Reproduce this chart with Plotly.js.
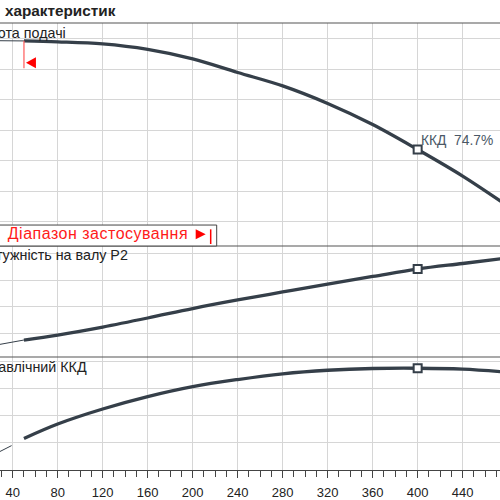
<!DOCTYPE html>
<html>
<head>
<meta charset="utf-8">
<script src="https://cdn.plot.ly/plotly-3.0.1.min.js"></script>
<style>
html,body{margin:0;padding:0;background:#fff}
#chart{width:500px;height:500px}
#chart g.annotation[data-index="5"] text{letter-spacing:0.5px}
</style>
</head>
<body>
<div id="chart"></div>
<script>
// Flow Q (m³/h)
var qThinH = [20, 50];
var hThin = [33.86, 33.84];
var qCurve = [50, 80, 120, 160, 200, 240, 280, 320, 360, 400, 440, 480];
var hCurve = [33.84, 33.78, 33.64, 33.28, 32.66, 31.77, 30.89, 29.74, 28.36, 26.72, 24.98, 23.02];
var qThinP = [20, 50];
var pThin = [22.6, 23.75];
var pCurve = [23.75, 24.69, 26.19, 27.88, 29.66, 31.26, 32.76, 34.26, 35.67, 37.07, 38.11, 39.14];
var qThinEta = [28, 39];
var etaThin = [13.3, 17.9];
var etaCurve = [23.2, 33.8, 44.8, 53.9, 61.2, 66.4, 70.6, 73.2, 74.5, 74.7, 74.0, 71.8];
var designQ = [400];
var designH = [26.72];
var designP = [37.07];
var designEta = [74.7];
var rangeLimits = [50, 216];
var xTickStep = 40;

var curveColor = '#353f49';
var thick = 3.3;
var font = 'Liberation Sans, Arial, sans-serif';

var traces = [
  {x: qThinH, y: hThin, mode: 'lines', line: {color: curveColor, width: 1}, xaxis: 'x', yaxis: 'y', hoverinfo: 'skip'},
  {x: qCurve, y: hCurve, mode: 'lines', line: {color: curveColor, width: thick, shape: 'spline', smoothing: 1}, xaxis: 'x', yaxis: 'y'},
  {x: qThinP, y: pThin, mode: 'lines', line: {color: curveColor, width: 1}, xaxis: 'x', yaxis: 'y2', hoverinfo: 'skip'},
  {x: qCurve, y: pCurve, mode: 'lines', line: {color: curveColor, width: thick, shape: 'spline', smoothing: 1}, xaxis: 'x', yaxis: 'y2'},
  {x: qThinEta, y: etaThin, mode: 'lines', line: {color: curveColor, width: 1}, xaxis: 'x', yaxis: 'y3', hoverinfo: 'skip'},
  {x: qCurve, y: etaCurve, mode: 'lines', line: {color: curveColor, width: thick, shape: 'spline', smoothing: 1}, xaxis: 'x', yaxis: 'y3'}
];
var mk = {symbol: 'square', size: 8, color: '#ffffff', line: {color: curveColor, width: 2}};
traces.push({x: designQ, y: designH, mode: 'markers', marker: mk, xaxis: 'x', yaxis: 'y'});
traces.push({x: designQ, y: designP, mode: 'markers', marker: mk, xaxis: 'x', yaxis: 'y2'});
traces.push({x: designQ, y: designEta, mode: 'markers', marker: mk, xaxis: 'x', yaxis: 'y3'});

var gridColor = '#d6d6d6';
var borderColor = '#555555';
var yBase = {showticklabels: false, ticks: '', zeroline: false, showgrid: true, gridcolor: gridColor, gridwidth: 1, showline: false, tick0: 0, fixedrange: true};

function hline(y) {
  return {type: 'line', xref: 'paper', yref: 'paper', x0: 0, x1: 1, y0: y, y1: y, line: {color: borderColor, width: 1.2}, layer: 'above'};
}

var shapes = [
  hline(1), hline(0.5011), hline(0.2528),
  // range box
  {type: 'rect', xref: 'x', yref: 'paper', xsizemode: 'pixel', xanchor: rangeLimits[1], x0: -300, x1: 6, y0: 0.5011, y1: 0.548,
   fillcolor: '#ffffff', line: {color: '#444444', width: 1}, layer: 'above'},
  // left range marker
  {type: 'line', xref: 'x', yref: 'paper', x0: rangeLimits[0], x1: rangeLimits[0], y0: 0.8987, y1: 0.9604, line: {color: '#ff5a5a', width: 1.2}, layer: 'above'},
  {type: 'path', xref: 'x', yref: 'paper', xsizemode: 'pixel', ysizemode: 'pixel', xanchor: rangeLimits[0], yanchor: 0.911,
   path: 'M 2,0 L 12,5.5 L 12,-5.5 Z', fillcolor: '#ff0000', line: {width: 0}, layer: 'above'},
  // right range marker
  {type: 'line', xref: 'x', yref: 'paper', x0: rangeLimits[1], x1: rangeLimits[1], y0: 0.5056, y1: 0.5384, line: {color: '#ff0000', width: 1.5}, layer: 'above'},
  {type: 'path', xref: 'x', yref: 'paper', xsizemode: 'pixel', ysizemode: 'pixel', xanchor: rangeLimits[1], yanchor: 0.5273,
   path: 'M -15,5 L -5,0 L -15,-5 Z', fillcolor: '#ff0000', line: {width: 0}, layer: 'above'}
];

var annotations = [
  {text: '<b>характеристик</b>', xref: 'paper', yref: 'paper', x: 0.006, y: 1.0, yshift: 13, xanchor: 'left', yanchor: 'middle', showarrow: false, font: {family: font, size: 15.3, color: '#222222'}},
  {text: 'Висота подачі', xref: 'paper', yref: 'paper', x: 0.136, y: 0.9777, xanchor: 'right', yanchor: 'middle', showarrow: false, font: {family: font, size: 14.3, color: '#222222'}},
  {text: 'Потужність на валу P2', xref: 'paper', yref: 'paper', x: 0.26, y: 0.481, xanchor: 'right', yanchor: 'middle', showarrow: false, font: {family: font, size: 14.3, color: '#222222'}},
  {text: 'Гідравлічний ККД', xref: 'paper', yref: 'paper', x: 0.178, y: 0.2304, xanchor: 'right', yanchor: 'middle', showarrow: false, font: {family: font, size: 14.3, color: '#222222'}},
  {text: 'ККД\u00a0\u00a0' + designEta[0].toFixed(1) + '%', xref: 'x', yref: 'y', x: designQ[0], y: designH[0], xanchor: 'left', yanchor: 'middle', xshift: 1, yshift: 9.5, showarrow: false, font: {family: font, size: 13.8, color: '#4a5866'}},
  {text: 'Діапазон застосування', xref: 'paper', yref: 'paper', x: 0.022, y: 0.528, xanchor: 'left', yanchor: 'middle', showarrow: false, font: {family: font, size: 16, color: '#ff1a1a'}}
];

var layout = {
  width: 500, height: 500,
  margin: {l: 0, r: 0, t: 23, b: 30, pad: 0},
  paper_bgcolor: '#ffffff', plot_bgcolor: '#ffffff',
  showlegend: false,
  font: {family: font, color: '#222222'},
  xaxis: {
    range: [28.7, 473.2], tick0: 0, dtick: xTickStep, anchor: 'y3',
    ticks: 'outside', ticklen: 7, tickwidth: 1, tickcolor: '#444444',
    ticklabelstandoff: 3,
    showgrid: true, gridcolor: gridColor, gridwidth: 1, zeroline: false,
    showline: true, linecolor: '#444444', linewidth: 1.2,
    tickfont: {family: font, size: 13, color: '#222222'},
    minor: {dtick: 10, tick0: 0, ticks: 'outside', ticklen: 6, tickwidth: 1, tickcolor: '#444444', showgrid: false},
    fixedrange: true
  },
  yaxis: Object.assign({}, yBase, {domain: [0.5011, 1], range: [20.393, 35.016], dtick: 2}),
  yaxis2: Object.assign({}, yBase, {domain: [0.2528, 0.5011], range: [20.563, 41.39], dtick: 5}),
  yaxis3: Object.assign({}, yBase, {domain: [0, 0.2528], range: [0, 82.94], dtick: 20}),
  shapes: shapes,
  annotations: annotations
};

Plotly.newPlot('chart', traces, layout, {displayModeBar: false, staticPlot: true});
</script>
</body>
</html>
